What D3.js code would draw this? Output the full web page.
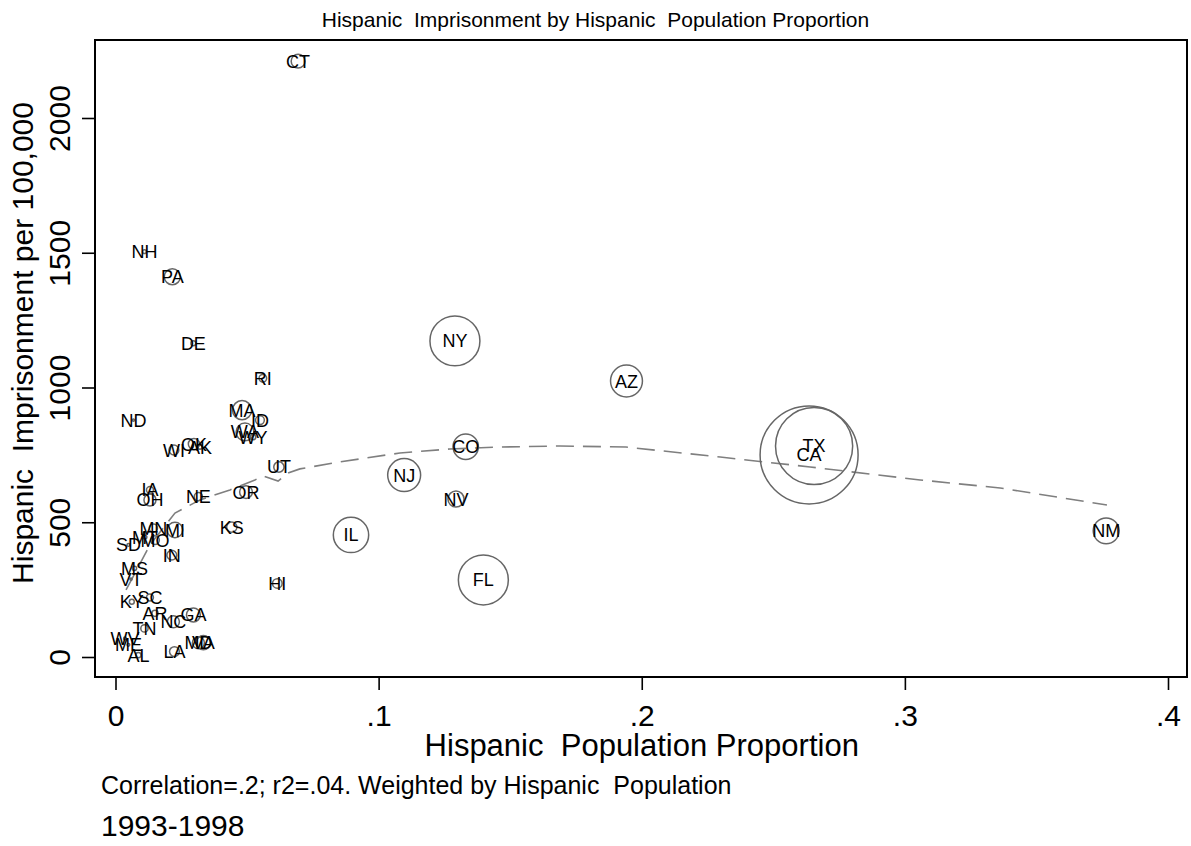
<!DOCTYPE html>
<html>
<head>
<meta charset="utf-8">
<script src="https://cdn.jsdelivr.net/npm/d3@7"></script>
<style>
  body { margin: 0; background: #fff; }
  svg text { font-family: 'Liberation Sans', Arial, sans-serif; fill: #000; white-space: pre; }
  .tick line { stroke: #000; stroke-width: 1.6; }
</style>
</head>
<body>
<div class="chart"></div>
<script>
const states = ['CT', 'NH', 'PA', 'DE', 'RI', 'ND', 'MA', 'ID', 'WA', 'WY',
  'WI', 'OK', 'AK', 'UT', 'IA', 'OH', 'NE', 'OR', 'KS', 'MN',
  'MI', 'SD', 'MO', 'MT', 'IN', 'MS', 'VT', 'HI', 'KY', 'SC',
  'AR', 'GA', 'NC', 'TN', 'WV', 'ME', 'AL', 'LA', 'MD', 'VA',
  'NY', 'AZ', 'CO', 'NJ', 'NV', 'IL', 'FL', 'TX', 'CA', 'NM'];

// share of state population that is Hispanic
const hispShare = [0.0694, 0.0110, 0.0216, 0.0296, 0.0560, 0.0068, 0.0481, 0.0549, 0.0492, 0.0523,
  0.0222, 0.0298, 0.0321, 0.0621, 0.0131, 0.0131, 0.0315, 0.0496, 0.0442, 0.0144,
  0.0226, 0.0049, 0.0150, 0.0112, 0.0214, 0.0072, 0.0059, 0.0615, 0.0062, 0.0131,
  0.0150, 0.0296, 0.0220, 0.0110, 0.0036, 0.0049, 0.0087, 0.0224, 0.0315, 0.0334,
  0.1290, 0.1942, 0.1331, 0.1097, 0.1294, 0.0895, 0.1398, 0.2655, 0.2636, 0.3765];

// Hispanic imprisonment per 100,000
const imprisonRate = [2211, 1504, 1411, 1164, 1034, 879, 916, 879, 835, 816,
  768, 790, 779, 705, 620, 583, 595, 612, 482, 478,
  471, 416, 434, 445, 378, 329, 289, 273, 205, 221,
  162, 156, 131, 106, 69, 45, 7, 20, 53, 53,
  1173, 1024, 780, 675, 586, 453, 286, 783, 750, 468];

// Hispanic population (thousands), used as marker weight
const hispPop = [200, 15, 266, 25, 60, 5, 380, 80, 330, 30,
  100, 130, 20, 110, 50, 150, 70, 170, 110, 70,
  250, 8, 80, 15, 100, 20, 5, 95, 25, 50,
  40, 200, 150, 55, 8, 8, 30, 100, 150, 210,
  2600, 1060, 670, 1130, 270, 1300, 2600, 6200, 10000, 700];

// lowess fit
const fitX = [0.0040, 0.0131, 0.0226, 0.0321, 0.0435, 0.0530, 0.0561, 0.0618, 0.0656, 0.0701,
  0.0853, 0.1081, 0.1271, 0.1461, 0.1689, 0.1940, 0.2298, 0.2640, 0.3058, 0.3362, 0.3768];
const fitY = [249, 416, 534, 583, 620, 657, 672, 653, 683, 698,
  724, 757, 772, 779, 783, 779, 742, 705, 657, 627, 564];

const xTicks = [0, 0.1, 0.2, 0.3, 0.4];
const yTicks = [0, 500, 1000, 1500, 2000];

const title = 'Hispanic  Imprisonment by Hispanic  Population Proportion';
const xTitle = 'Hispanic  Population Proportion';
const yTitle = 'Hispanic  Imprisonment per 100,000';
const note = 'Correlation=.2; r2=.04. Weighted by Hispanic  Population';
const caption = '1993-1998';

const width = 1191;
const height = 846;
const frame = { left: 95, top: 40, right: 1187, bottom: 677 };

const x = d3.scaleLinear().domain([0, 0.4]).range([115.5, 1168]);
const y = d3.scaleLinear().domain([0, 2000]).range([657, 118]);
const r = d3.scaleSqrt().domain([0, 10000]).range([0, 49]);

const data = states.map((s, i) => ({
  state: s,
  share: hispShare[i],
  rate: imprisonRate[i],
  pop: hispPop[i]
}));
const fit = fitX.map((v, i) => ({ share: v, rate: fitY[i] }));

const svg = d3
  .select('.chart')
  .append('svg')
  .attr('width', width)
  .attr('height', height);

svg
  .append('text')
  .attr('x', width / 2)
  .attr('y', 27)
  .attr('text-anchor', 'middle')
  .style('font-size', '21px')
  .text(title);

svg
  .append('rect')
  .attr('x', frame.left)
  .attr('y', frame.top)
  .attr('width', frame.right - frame.left)
  .attr('height', frame.bottom - frame.top)
  .attr('fill', 'none')
  .attr('stroke', '#000')
  .attr('stroke-width', 2);

// y axis, labels turned on their side
const yAxis = svg
  .append('g')
  .attr('transform', 'translate(' + frame.left + ',0)')
  .call(d3.axisLeft(y).tickValues(yTicks).tickSize(13).tickFormat(d3.format('d')));
yAxis.select('.domain').remove();
yAxis
  .selectAll('text')
  .attr('x', 0)
  .attr('y', -25)
  .attr('dy', 0)
  .attr('transform', 'rotate(-90)')
  .attr('text-anchor', 'middle')
  .style('font-size', '30px');

const xAxis = svg
  .append('g')
  .attr('transform', 'translate(0,' + frame.bottom + ')')
  .call(
    d3
      .axisBottom(x)
      .tickValues(xTicks)
      .tickSize(13)
      .tickFormat(d => (d === 0 ? '0' : d3.format('.1f')(d).replace(/^0/, '')))
  );
xAxis.select('.domain').remove();
xAxis
  .selectAll('text')
  .attr('y', 49)
  .attr('dy', 0)
  .style('font-size', '30px');

svg
  .append('text')
  .attr('x', (x(0) + x(0.4)) / 2)
  .attr('y', 756)
  .attr('text-anchor', 'middle')
  .style('font-size', '31px')
  .text(xTitle);

svg
  .append('text')
  .attr('transform', 'translate(33,' + 343 + ') rotate(-90)')
  .attr('text-anchor', 'middle')
  .style('font-size', '30px')
  .text(yTitle);

svg
  .append('text')
  .attr('x', 101)
  .attr('y', 794)
  .style('font-size', '25px')
  .text(note);

svg
  .append('text')
  .attr('x', 101)
  .attr('y', 836)
  .style('font-size', '30px')
  .text(caption);

const line = d3
  .line()
  .x(d => x(d.share))
  .y(d => y(d.rate));

svg
  .append('path')
  .datum(fit)
  .attr('d', line)
  .attr('fill', 'none')
  .attr('stroke', '#7f7f7f')
  .attr('stroke-width', 1.6)
  .attr('stroke-dasharray', '18,9');

svg
  .selectAll('.dot')
  .data(data)
  .enter()
  .append('circle')
  .attr('class', 'dot')
  .attr('cx', d => x(d.share))
  .attr('cy', d => y(d.rate))
  .attr('r', d => r(d.pop))
  .attr('fill', 'none')
  .attr('stroke', '#666')
  .attr('stroke-width', 1.5);

svg
  .selectAll('.label')
  .data(data)
  .enter()
  .append('text')
  .attr('class', 'label')
  .attr('x', d => x(d.share))
  .attr('y', d => y(d.rate))
  .attr('dy', '0.36em')
  .attr('text-anchor', 'middle')
  .style('font-size', '18px')
  .text(d => d.state);
</script>
</body>
</html>
